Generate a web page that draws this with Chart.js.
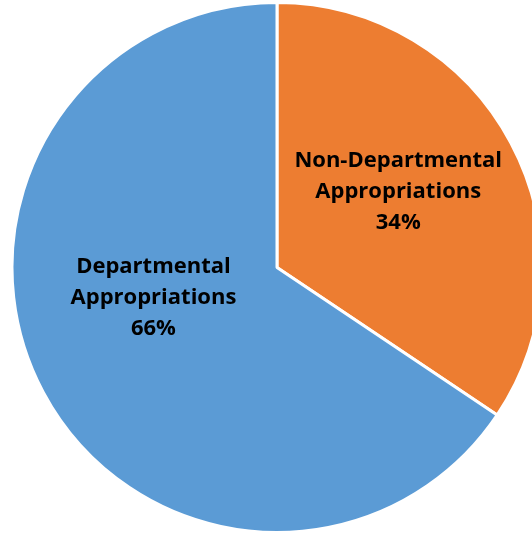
<!DOCTYPE html>
<html>
<head>
<meta charset="utf-8">
<script src="https://cdn.jsdelivr.net/npm/chart.js@4/dist/chart.umd.min.js"></script>
<style>
  html, body { margin: 0; padding: 0; background: #fff; overflow: hidden; }
  #wrap { position: relative; width: 554px; height: 535px; }
</style>
</head>
<body>
<div id="wrap"><canvas id="pie" width="554" height="535"></canvas></div>
<script>
// datos del gráfico
const categorias = [['Non-Departmental', 'Appropriations'], ['Departmental', 'Appropriations']];
const valores = [34.4, 65.6];
const colores = ['#ED7D31', '#5B9BD5'];

// plugin para las etiquetas dentro de cada porción
const etiquetasPlugin = {
    id: 'etiquetas',
    afterDatasetsDraw(chart, args, opts) {
        const ctx = chart.ctx;
        const meta = chart.getDatasetMeta(0);
        const total = valores.reduce((a, b) => a + b, 0);
        ctx.save();
        ctx.font = 'bold 22px "Open Sans", sans-serif';
        ctx.fillStyle = '#000';
        ctx.textAlign = 'center';
        ctx.textBaseline = 'middle';
        meta.data.forEach((arc, i) => {
            const p = arc.getProps(['x', 'y', 'startAngle', 'endAngle', 'outerRadius'], true);
            const ajuste = opts.ajustes[i];
            const ang = (p.startAngle + p.endAngle) / 2 + ajuste.ang;
            const r = p.outerRadius * ajuste.r;
            const cx = p.x + Math.cos(ang) * r;
            const cy = p.y + Math.sin(ang) * r;
            const lineas = [...categorias[i], Math.round(valores[i] / total * 100) + '%'];
            const alto = 31;
            lineas.forEach((t, k) => {
                ctx.fillText(t, cx, cy + (k - (lineas.length - 1) / 2) * alto);
            });
        });
        ctx.restore();
    }
};

new Chart(document.getElementById('pie'), {
    type: 'pie',
    data: {
        labels: categorias.map(c => c.join(' ')),
        datasets: [{
            data: valores,
            backgroundColor: colores,
            borderColor: '#ffffff',
            borderWidth: 3
        }]
    },
    options: {
        responsive: false,
        animation: false,
        devicePixelRatio: 1,
        layout: { padding: { top: 1, bottom: 1, left: 0, right: 0 } },
        plugins: {
            legend: { display: false },
            tooltip: { enabled: false },
            etiquetas: { ajustes: [{ ang: -0.07, r: 0.54 }, { ang: 0.25, r: 0.48 }] }
        }
    },
    plugins: [etiquetasPlugin]
});
</script>
</body>
</html>
